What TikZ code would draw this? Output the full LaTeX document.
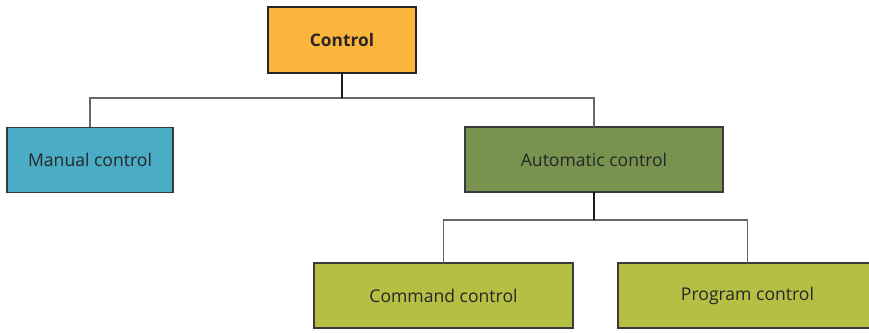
\documentclass[tikz,border=0pt]{standalone}
\usepackage{fontspec}
\setmainfont{Open Sans}
\usepackage{tikz}
\usetikzlibrary{positioning}

\definecolor{ctrlorange}{HTML}{FBB53C}
\definecolor{manualblue}{HTML}{4BACC6}
\definecolor{autogreen}{HTML}{77934F}
\definecolor{subolive}{HTML}{B5BF44}
\definecolor{edgegray}{HTML}{3A3A3A}

\tikzset{
	ctrlbox/.style={shape=rectangle, draw=black!85, line width=1.6pt, fill=ctrlorange, minimum width=3.7cm, minimum height=1.65cm, inner sep=0pt, outer sep=0pt, font=\fontsize{12.3}{14}\selectfont\bfseries, text=black!85},
	levelbox/.style={shape=rectangle, draw=edgegray, line width=1pt, minimum height=1.625cm, inner sep=0pt, outer sep=0pt, font=\fontsize{12.5}{14}\selectfont, text=black!85},
	trunk/.style={draw=black!90, line width=1.2pt},
	branch/.style={draw=black!60, line width=0.8pt}
}

\begin{document}
\begin{tikzpicture}[x=0.025cm, y=-0.025cm]
	% Frame:
	\useasboundingbox (0,0) rectangle (869,332);
	% Boxes:
	\node[ctrlbox](Ctrl) at (342, 40){Control};
	\node[levelbox, fill=manualblue, minimum width=4.15cm](Manual) at (90, 160){Manual control};
	\node[levelbox, fill=autogreen, minimum width=6.45cm](Auto) at (594, 159.5){Automatic control};
	\node[levelbox, fill=subolive, minimum width=6.475cm](Command) at (443.5, 295.5){Command control};
	\node[levelbox, fill=subolive, minimum width=6.475cm](Program) at (747.5, 295.5){Program control};
	% Junctions:
	\coordinate (J1) at (342, 98);
	\coordinate (J2) at (594, 220);
	% Wires:
	\draw[branch] (Manual.north) |- (J1) -| (Auto.north);
	\draw[trunk] (Ctrl.south) -- (J1);
	\draw[branch] (Command.north) |- (J2) -| (Program.north);
	\draw[trunk] (Auto.south) -- (J2);
\end{tikzpicture}
\end{document}
